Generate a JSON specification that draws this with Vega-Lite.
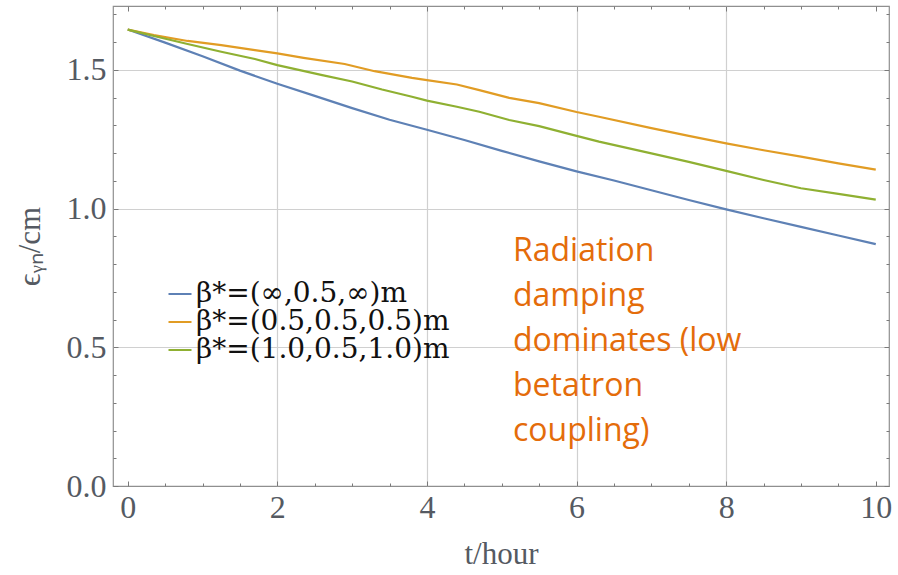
{
  "$schema": "https://vega.github.io/schema/vega-lite/v6.json",
  "width": 776,
  "height": 480,
  "autosize": {"type": "none"},
  "padding": {"left": 113, "top": 6, "right": 9, "bottom": 89},
  "background": "white",
  "config": {
    "view": {"stroke": "#8f8f8f", "strokeWidth": 1.2},
    "axis": {
      "labelFont": "Liberation Serif",
      "labelFontSize": 32,
      "labelColor": "#555a62",
      "titleFont": "Liberation Serif",
      "titleFontSize": 31,
      "titleFontWeight": "normal",
      "titleColor": "#555a62",
      "tickColor": "#7a7a7a",
      "gridColor": "#d0d0d0",
      "gridWidth": 1.2,
      "domain": false
    }
  },
  "datasets": {
    "curves": [
      {"t": 0, "eps": 1.645, "series": "β*=(∞,0.5,∞)m"},
      {"t": 0.5, "eps": 1.598, "series": "β*=(∞,0.5,∞)m"},
      {"t": 1, "eps": 1.549, "series": "β*=(∞,0.5,∞)m"},
      {"t": 1.5, "eps": 1.497, "series": "β*=(∞,0.5,∞)m"},
      {"t": 2, "eps": 1.45, "series": "β*=(∞,0.5,∞)m"},
      {"t": 2.5, "eps": 1.406, "series": "β*=(∞,0.5,∞)m"},
      {"t": 3, "eps": 1.362, "series": "β*=(∞,0.5,∞)m"},
      {"t": 3.5, "eps": 1.32, "series": "β*=(∞,0.5,∞)m"},
      {"t": 4, "eps": 1.284, "series": "β*=(∞,0.5,∞)m"},
      {"t": 4.5, "eps": 1.247, "series": "β*=(∞,0.5,∞)m"},
      {"t": 5, "eps": 1.208, "series": "β*=(∞,0.5,∞)m"},
      {"t": 5.5, "eps": 1.17, "series": "β*=(∞,0.5,∞)m"},
      {"t": 6, "eps": 1.134, "series": "β*=(∞,0.5,∞)m"},
      {"t": 6.5, "eps": 1.101, "series": "β*=(∞,0.5,∞)m"},
      {"t": 7, "eps": 1.066, "series": "β*=(∞,0.5,∞)m"},
      {"t": 7.5, "eps": 1.031, "series": "β*=(∞,0.5,∞)m"},
      {"t": 8, "eps": 0.997, "series": "β*=(∞,0.5,∞)m"},
      {"t": 8.5, "eps": 0.965, "series": "β*=(∞,0.5,∞)m"},
      {"t": 9, "eps": 0.934, "series": "β*=(∞,0.5,∞)m"},
      {"t": 9.5, "eps": 0.903, "series": "β*=(∞,0.5,∞)m"},
      {"t": 10, "eps": 0.872, "series": "β*=(∞,0.5,∞)m"},

      {"t": 0, "eps": 1.645, "series": "β*=(0.5,0.5,0.5)m"},
      {"t": 0.35, "eps": 1.625, "series": "β*=(0.5,0.5,0.5)m"},
      {"t": 0.8, "eps": 1.604, "series": "β*=(0.5,0.5,0.5)m"},
      {"t": 1.25, "eps": 1.589, "series": "β*=(0.5,0.5,0.5)m"},
      {"t": 1.7, "eps": 1.571, "series": "β*=(0.5,0.5,0.5)m"},
      {"t": 2, "eps": 1.559, "series": "β*=(0.5,0.5,0.5)m"},
      {"t": 2.35, "eps": 1.543, "series": "β*=(0.5,0.5,0.5)m"},
      {"t": 2.9, "eps": 1.521, "series": "β*=(0.5,0.5,0.5)m"},
      {"t": 3.3, "eps": 1.495, "series": "β*=(0.5,0.5,0.5)m"},
      {"t": 3.8, "eps": 1.471, "series": "β*=(0.5,0.5,0.5)m"},
      {"t": 4, "eps": 1.463, "series": "β*=(0.5,0.5,0.5)m"},
      {"t": 4.4, "eps": 1.447, "series": "β*=(0.5,0.5,0.5)m"},
      {"t": 4.7, "eps": 1.427, "series": "β*=(0.5,0.5,0.5)m"},
      {"t": 5.1, "eps": 1.399, "series": "β*=(0.5,0.5,0.5)m"},
      {"t": 5.5, "eps": 1.38, "series": "β*=(0.5,0.5,0.5)m"},
      {"t": 6, "eps": 1.348, "series": "β*=(0.5,0.5,0.5)m"},
      {"t": 6.3, "eps": 1.331, "series": "β*=(0.5,0.5,0.5)m"},
      {"t": 7, "eps": 1.29, "series": "β*=(0.5,0.5,0.5)m"},
      {"t": 7.5, "eps": 1.262, "series": "β*=(0.5,0.5,0.5)m"},
      {"t": 8, "eps": 1.235, "series": "β*=(0.5,0.5,0.5)m"},
      {"t": 8.5, "eps": 1.21, "series": "β*=(0.5,0.5,0.5)m"},
      {"t": 9, "eps": 1.187, "series": "β*=(0.5,0.5,0.5)m"},
      {"t": 9.5, "eps": 1.163, "series": "β*=(0.5,0.5,0.5)m"},
      {"t": 10, "eps": 1.14, "series": "β*=(0.5,0.5,0.5)m"},

      {"t": 0, "eps": 1.645, "series": "β*=(1.0,0.5,1.0)m"},
      {"t": 0.35, "eps": 1.622, "series": "β*=(1.0,0.5,1.0)m"},
      {"t": 0.8, "eps": 1.593, "series": "β*=(1.0,0.5,1.0)m"},
      {"t": 1.25, "eps": 1.565, "series": "β*=(1.0,0.5,1.0)m"},
      {"t": 1.7, "eps": 1.539, "series": "β*=(1.0,0.5,1.0)m"},
      {"t": 2, "eps": 1.517, "series": "β*=(1.0,0.5,1.0)m"},
      {"t": 2.6, "eps": 1.481, "series": "β*=(1.0,0.5,1.0)m"},
      {"t": 3, "eps": 1.458, "series": "β*=(1.0,0.5,1.0)m"},
      {"t": 3.4, "eps": 1.429, "series": "β*=(1.0,0.5,1.0)m"},
      {"t": 3.8, "eps": 1.403, "series": "β*=(1.0,0.5,1.0)m"},
      {"t": 4, "eps": 1.389, "series": "β*=(1.0,0.5,1.0)m"},
      {"t": 4.4, "eps": 1.367, "series": "β*=(1.0,0.5,1.0)m"},
      {"t": 4.7, "eps": 1.349, "series": "β*=(1.0,0.5,1.0)m"},
      {"t": 5.1, "eps": 1.319, "series": "β*=(1.0,0.5,1.0)m"},
      {"t": 5.5, "eps": 1.297, "series": "β*=(1.0,0.5,1.0)m"},
      {"t": 6, "eps": 1.262, "series": "β*=(1.0,0.5,1.0)m"},
      {"t": 6.3, "eps": 1.241, "series": "β*=(1.0,0.5,1.0)m"},
      {"t": 7, "eps": 1.199, "series": "β*=(1.0,0.5,1.0)m"},
      {"t": 7.5, "eps": 1.168, "series": "β*=(1.0,0.5,1.0)m"},
      {"t": 8, "eps": 1.136, "series": "β*=(1.0,0.5,1.0)m"},
      {"t": 8.5, "eps": 1.103, "series": "β*=(1.0,0.5,1.0)m"},
      {"t": 9, "eps": 1.073, "series": "β*=(1.0,0.5,1.0)m"},
      {"t": 9.5, "eps": 1.053, "series": "β*=(1.0,0.5,1.0)m"},
      {"t": 10, "eps": 1.032, "series": "β*=(1.0,0.5,1.0)m"}
    ],
    "note": [
      {"t": 5.15, "eps": 0.812, "text": "Radiation\ndamping\ndominates (low\nbetatron\ncoupling)"}
    ]
  },
  "resolve": {"axis": {"x": "independent", "y": "independent"}},
  "layer": [
    {
      "data": {"name": "curves"},
      "mark": {"type": "line", "strokeWidth": 2.2, "clip": true},
      "encoding": {
        "x": {
          "field": "t", "type": "quantitative",
          "scale": {"domain": [-0.197, 10.177], "nice": false, "zero": false},
          "axis": {"orient": "bottom", "values": [0, 2, 4, 6, 8, 10], "tickSize": -5, "grid": false, "labelPadding": 11, "title": "t/hour", "titlePadding": 16, "format": "d"}
        },
        "y": {
          "field": "eps", "type": "quantitative",
          "scale": {"domain": [0, 1.73], "nice": false, "zero": false},
          "axis": {"orient": "left", "values": [0, 0.5, 1, 1.5], "tickSize": -5, "grid": false, "labelPadding": 12, "format": ".1f", "title": "ϵᵧₙ/cm", "titlePadding": 20}
        },
        "color": {
          "field": "series", "type": "nominal",
          "scale": {"domain": ["β*=(∞,0.5,∞)m", "β*=(0.5,0.5,0.5)m", "β*=(1.0,0.5,1.0)m"], "range": ["#5E81B5", "#E19C24", "#8FB032"]},
          "legend": {
            "orient": "none", "legendX": 53, "legendY": 274, "title": null,
            "symbolType": "stroke", "symbolSize": 529, "symbolStrokeWidth": 2,
            "labelFont": "DejaVu Serif", "labelFontSize": 28, "labelColor": "#111111",
            "labelOffset": 2, "rowPadding": 0, "padding": 0, "labelLimit": 400
          }
        }
      }
    },
    {
      "data": {"name": "note"},
      "mark": {"type": "text", "align": "left", "baseline": "alphabetic", "font": "Open Sans", "fontSize": 32, "lineHeight": 45, "lineBreak": "\n", "color": "#E46C0A"},
      "encoding": {
        "x": {"field": "t", "type": "quantitative", "axis": {"orient": "bottom", "values": [2, 4, 6, 8], "grid": true, "ticks": false, "labels": false, "title": null}},
        "y": {"field": "eps", "type": "quantitative", "axis": {"orient": "left", "values": [0.5, 1, 1.5], "grid": true, "ticks": false, "labels": false, "title": null}},
        "text": {"field": "text"}
      }
    },
    {
      "data": {"name": "curves"},
      "mark": {"type": "point", "opacity": 0},
      "encoding": {
        "x": {"field": "t", "type": "quantitative", "axis": {"orient": "bottom", "values": [0.5, 1, 1.5, 2.5, 3, 3.5, 4.5, 5, 5.5, 6.5, 7, 7.5, 8.5, 9, 9.5], "tickSize": -3, "grid": false, "labels": false, "title": null}},
        "y": {"field": "eps", "type": "quantitative", "axis": {"orient": "left", "values": [0.1, 0.2, 0.3, 0.4, 0.6, 0.7, 0.8, 0.9, 1.1, 1.2, 1.3, 1.4, 1.6, 1.7], "tickSize": -3, "grid": false, "labels": false, "title": null}}
      }
    },
    {
      "data": {"name": "curves"},
      "mark": {"type": "point", "opacity": 0},
      "encoding": {
        "x": {"field": "t", "type": "quantitative", "axis": {"orient": "top", "values": [0, 2, 4, 6, 8, 10], "tickSize": -5, "grid": false, "labels": false, "title": null}},
        "y": {"field": "eps", "type": "quantitative", "axis": {"orient": "right", "values": [0, 0.5, 1, 1.5], "tickSize": -5, "grid": false, "labels": false, "title": null}}
      }
    },
    {
      "data": {"name": "curves"},
      "mark": {"type": "point", "opacity": 0},
      "encoding": {
        "x": {"field": "t", "type": "quantitative", "axis": {"orient": "top", "values": [0.5, 1, 1.5, 2.5, 3, 3.5, 4.5, 5, 5.5, 6.5, 7, 7.5, 8.5, 9, 9.5], "tickSize": -3, "grid": false, "labels": false, "title": null}},
        "y": {"field": "eps", "type": "quantitative", "axis": {"orient": "right", "values": [0.1, 0.2, 0.3, 0.4, 0.6, 0.7, 0.8, 0.9, 1.1, 1.2, 1.3, 1.4, 1.6, 1.7], "tickSize": -3, "grid": false, "labels": false, "title": null}}
      }
    }
  ]
}
